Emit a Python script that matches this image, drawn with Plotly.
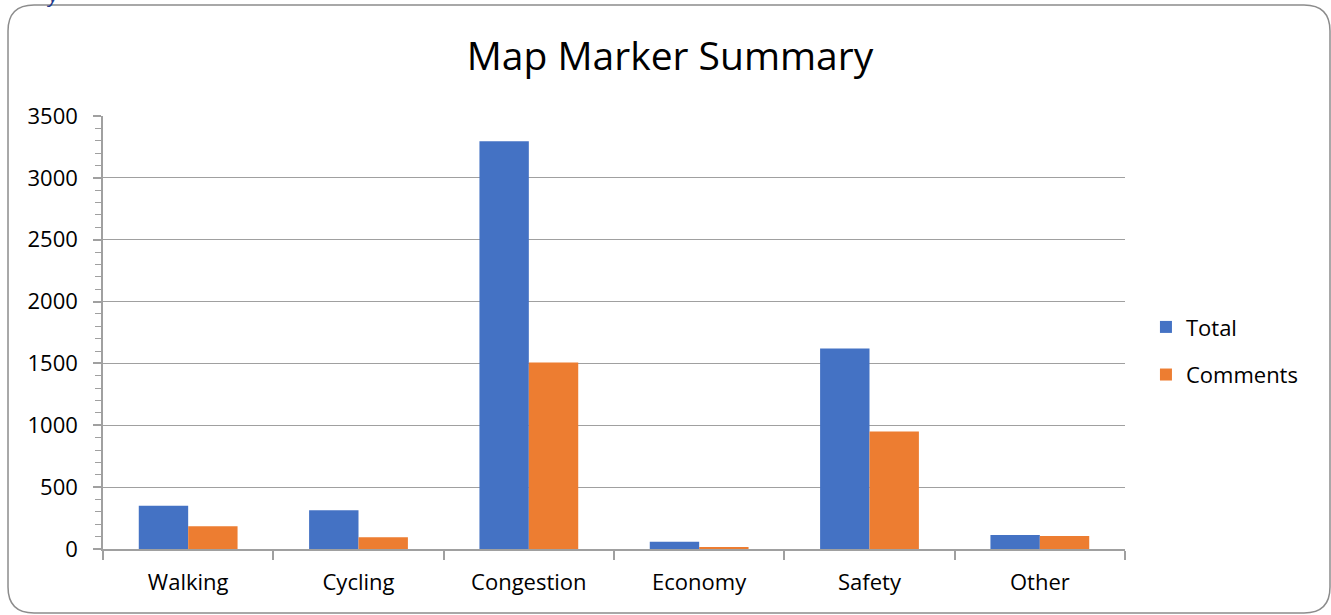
import plotly.graph_objects as go

# ---------------------------------- data ----------------------------------
categories = ['Walking', 'Cycling', 'Congestion', 'Economy', 'Safety', 'Other']
total = [350, 313, 3295, 59, 1621, 113]
comments = [183, 94, 1508, 17, 949, 105]
series_names = ['Total', 'Comments']
y_ticks = [0, 500, 1000, 1500, 2000, 2500, 3000, 3500]

BLUE = '#4472C4'
ORANGE = '#ED7D31'
GRID = '#a0a0a0'
FONT = 'Open Sans'

W, H = 1331, 615
ML, MR, MT, MB = 103, 206, 116, 66
PW, PH = W - ML - MR, H - MT - MB


def px2paper(x, y):
    return (x - ML) / PW, (H - MB - y) / PH


def rounded_box(x0, y0, x1, y1, r):
    # outer frame of the chart, drawn in paper coords
    def p(x, y):
        a, b = px2paper(x, y)
        return f'{a:.5f},{b:.5f}'
    return (f'M {p(x0 + r, y0)} L {p(x1 - r, y0)} Q {p(x1, y0)} {p(x1, y0 + r)} '
            f'L {p(x1, y1 - r)} Q {p(x1, y1)} {p(x1 - r, y1)} '
            f'L {p(x0 + r, y1)} Q {p(x0, y1)} {p(x0, y1 - r)} '
            f'L {p(x0, y0 + r)} Q {p(x0, y0)} {p(x0 + r, y0)} Z')


fig = go.Figure()
fig.add_trace(go.Bar(x=categories, y=total, name=series_names[0], marker_color=BLUE,
                     marker_line_width=0, legendgroup='a'))
fig.add_trace(go.Bar(x=categories, y=comments, name=series_names[1], marker_color=ORANGE,
                     marker_line_width=0, legendgroup='b'))

tick_style = dict(tickcolor=GRID, tickwidth=1.5)

fig.update_layout(
    width=W, height=H,
    margin=dict(l=ML, r=MR, t=MT, b=MB),
    paper_bgcolor='white', plot_bgcolor='white',
    font=dict(family=FONT, size=22, color='#000'),
    title=dict(text='Map Marker Summary', x=670 / W, xanchor='center', y=1 - 56 / H,
               yanchor='middle', font=dict(family=FONT, size=39, color='#000')),
    barmode='group', bargap=0.42, bargroupgap=0,
    legend=dict(x=1.0205, xanchor='left', y=0.457, yanchor='middle',
                font=dict(size=22), tracegroupgap=16, itemwidth=30),
    xaxis=dict(type='category', categoryorder='array', categoryarray=categories,
               range=[-0.5, 5.5], showline=True, linecolor=GRID, linewidth=1.5,
               ticks='outside', tickson='boundaries', ticklen=9, showgrid=False,
               ticklabelstandoff=13, **tick_style),
    # second x axis only adds the upper half of the crossing ticks
    xaxis2=dict(overlaying='x', anchor='y', range=[-0.5, 5.5], tick0=-0.5, dtick=1,
                ticks='inside', ticklen=8, showticklabels=False, showline=False,
                showgrid=False, zeroline=False, **tick_style),
    yaxis=dict(range=[0, 3500], tickvals=y_ticks, showline=True, linecolor=GRID,
               linewidth=1.5, ticks='outside', ticklen=8, showgrid=True,
               gridcolor=GRID, gridwidth=1, zeroline=False,
               minor=dict(dtick=100, ticks='outside', ticklen=6, tickcolor=GRID,
                          tickwidth=1, showgrid=False),
               ticklabelstandoff=11, **tick_style),
    yaxis2=dict(overlaying='y', range=[0, 3500], tickvals=y_ticks, showticklabels=False,
                showline=False, ticks='inside', ticklen=8, showgrid=False, zeroline=False,
                minor=dict(dtick=100, ticks='inside', ticklen=7, tickcolor=GRID, tickwidth=1),
                **tick_style),
)

fig.add_shape(type='path', path=rounded_box(8, 5, 1330, 613, 26), xref='paper', yref='paper',
              line=dict(color='#8c8c8c', width=1.5), fillcolor='rgba(0,0,0,0)', layer='above')

# fragment of blue text cut off at the top edge
fig.add_annotation(text='<i>y</i>', x=px2paper(53, 0)[0], y=px2paper(0, 10)[1], xref='paper',
                   yref='paper', showarrow=False, xanchor='center', yanchor='bottom',
                   font=dict(family=FONT, size=20, color='#1f3a8c'))

fig.write_html('out.html', config={'displayModeBar': False},
               post_script="document.body.style.margin='0px';")
